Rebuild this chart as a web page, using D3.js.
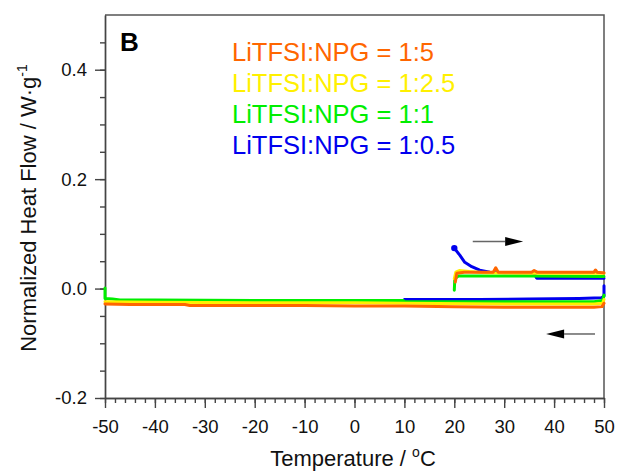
<!DOCTYPE html>
<html>
<head>
<meta charset="utf-8">
<script src="https://cdn.jsdelivr.net/npm/d3@7"></script>
<style>
  body { margin: 0; background: #fff; }
  text { font-family: "Liberation Sans", Arial, sans-serif; }
</style>
</head>
<body>
<div id="chart"></div>
<script>
// series names, colours (legend order)
var names = ["LiTFSI:NPG = 1:5", "LiTFSI:NPG = 1:2.5", "LiTFSI:NPG = 1:1", "LiTFSI:NPG = 1:0.5"];
var colors = ["#ff6600", "#fff000", "#00ee00", "#0000ee"];

// [temperature, heat flow] - cooling run 50 -> -50 / 10, then heating 20 -> 50
var orange = [
  [50, 0.029], [49.7, 0.029], [48.6, 0.030], [48.3, 0.034], [48.0, 0.030], [36.6, 0.030], [36.0, 0.033],
  [35.5, 0.030], [28.8, 0.030], [28.3, 0.038], [27.8, 0.030], [22, 0.030], [20.5, 0.028], [20.2, 0.012]
];
var orangeCool = [
  [50, -0.027], [49.6, -0.033], [48, -0.034], [40, -0.034], [30, -0.034], [20, -0.033], [10, -0.032],
  [0, -0.032], [-10, -0.031], [-20, -0.031], [-33, -0.031], [-34, -0.029], [-45, -0.029], [-50, -0.028]
];
var yellow = [
  [20, 0.018], [20.3, 0.030], [21, 0.033], [23, 0.031], [26, 0.029], [35, 0.028], [50, 0.028]
];
var yellowCool = [
  [50, -0.020], [49.7, -0.027], [48, -0.028], [30, -0.028], [10, -0.027], [0, -0.026], [-20, -0.026],
  [-40, -0.025], [-50, -0.024]
];
var green = [
  [20, -0.003], [20.1, 0.018], [20.8, 0.023], [22, 0.023], [35, 0.023], [50, 0.022]
];
var greenCool = [
  [50, -0.012], [49.7, -0.022], [48, -0.024], [30, -0.024], [10, -0.024], [9.8, -0.022], [0, -0.022],
  [-20, -0.022], [-40, -0.021], [-47, -0.021], [-48.5, -0.019], [-50, -0.018], [-50, 0.001]
];
var blue = [
  [20, 0.074], [21.1, 0.061], [22.1, 0.048], [23.5, 0.040], [25.1, 0.0335], [27.1, 0.030], [30, 0.029],
  [36, 0.028], [36.5, 0.019], [50, 0.019]
];
var blueCool = [
  [50, 0.005], [50, -0.014], [49.5, -0.017], [45, -0.018], [35, -0.019], [25, -0.020], [10, -0.020]
];

// drawing order: blue under, orange on top
var runs = [
  {data: blueCool, c: 3}, {data: blue, c: 3},
  {data: greenCool, c: 2}, {data: green, c: 2},
  {data: yellowCool, c: 1}, {data: yellow, c: 1},
  {data: orangeCool, c: 0}, {data: orange, c: 0}
];

var xTicks = [-50, -40, -30, -20, -10, 0, 10, 20, 30, 40, 50];
var yTicks = [-0.2, 0.0, 0.2, 0.4];

// direction arrows (heating, cooling), in data units
var arrows = [
  {from: [23.7, 0.086], to: [33.8, 0.086]},
  {from: [48.2, -0.083], to: [38.4, -0.083]}
];

var W = 619, H = 473;
var margin = {top: 15, right: 15, bottom: 75, left: 105},
    width = 604 - margin.left,
    height = 398 - margin.top;

var svg = d3.select("#chart")
  .append("svg")
    .attr("width", W)
    .attr("height", H)
  .append("g")
    .attr("transform", "translate(" + margin.left + "," + margin.top + ")");

var x = d3.scaleLinear().domain([-50, 50]).range([0, width]);
var y = d3.scaleLinear().domain([-0.2, 0.5]).range([height, 0]);

// frame top / right
svg.append("path")
  .attr("d", "M0,0H" + width + "V" + height)
  .attr("fill", "none")
  .attr("stroke", "#555")
  .attr("stroke-width", 1.5);

// minor ticks
svg.append("g")
  .attr("class", "axis")
  .attr("transform", "translate(0," + height + ")")
  .call(d3.axisBottom(x).tickValues(d3.range(-50, 50.1, 2)).tickSize(5).tickSizeOuter(0).tickFormat(""));
svg.append("g")
  .attr("class", "axis")
  .call(d3.axisLeft(y).tickValues(d3.range(-0.2, 0.5, 0.05)).tickSize(5).tickSizeOuter(0).tickFormat(""));

// major ticks + labels
svg.append("g")
  .attr("class", "axis")
  .attr("transform", "translate(0," + height + ")")
  .call(d3.axisBottom(x).tickValues(xTicks).tickSize(10).tickSizeOuter(0).tickPadding(12).tickFormat(d3.format("d")));
svg.append("g")
  .attr("class", "axis")
  .call(d3.axisLeft(y).tickValues(yTicks).tickSize(10).tickSizeOuter(0).tickPadding(8).tickFormat(d3.format(".1f")));

svg.selectAll(".axis path, .axis line")
  .attr("stroke", "#444")
  .attr("stroke-width", 1.4);
svg.selectAll(".axis text")
  .attr("fill", "#111")
  .style("font-size", "18.5px")
  .style("font-family", "'Liberation Sans', Arial, sans-serif");
svg.selectAll(".axis text").text(function() { return this.textContent.replace("\u2212", "-"); });

// curves
var line = d3.line().x(function(d) { return x(d[0]); }).y(function(d) { return y(d[1]); });
svg.selectAll(".run")
  .data(runs)
  .enter()
  .append("path")
    .attr("class", "run")
    .attr("d", function(d) { return line(d.data); })
    .attr("fill", "none")
    .attr("stroke", function(d) { return colors[d.c]; })
    .attr("stroke-width", 3)
    .attr("stroke-linejoin", "round")
    .attr("stroke-linecap", "round");

// start dot on blue heating curve
svg.append("circle")
  .attr("cx", x(blue[0][0]))
  .attr("cy", y(blue[0][1]))
  .attr("r", 3.2)
  .attr("fill", colors[3]);

// arrows
arrows.forEach(function(a) {
  var x0 = x(a.from[0]), x1 = x(a.to[0]), yy = y(a.from[1]);
  var dir = x1 > x0 ? 1 : -1;
  var base = x1 - dir * 18;
  svg.append("line")
    .attr("x1", x0).attr("x2", base).attr("y1", yy).attr("y2", yy)
    .attr("stroke", "#666").attr("stroke-width", 1.5);
  svg.append("path")
    .attr("d", "M" + x1 + "," + yy + "L" + base + "," + (yy - 4.5) + "L" + base + "," + (yy + 4.5) + "Z")
    .attr("fill", "#000");
});

// panel letter
svg.append("text")
  .attr("x", 15).attr("y", 36)
  .style("font-size", "26px")
  .style("font-weight", "bold")
  .text("B");

// legend
svg.selectAll(".leg")
  .data(names)
  .enter()
  .append("text")
    .attr("class", "leg")
    .attr("x", 232 - margin.left)
    .attr("y", function(d, i) { return 61 - margin.top + i * 31; })
    .attr("fill", function(d, i) { return colors[i]; })
    .style("font-size", "25.5px")
    .text(function(d) { return d; });

// axis titles
var xt = svg.append("text")
  .attr("x", 353 - margin.left)
  .attr("y", 466 - margin.top)
  .attr("text-anchor", "middle")
  .style("font-size", "22px")
  .attr("fill", "#111");
xt.append("tspan").text("Temperature / ");
xt.append("tspan").attr("dy", -9).style("font-size", "14px").text("o");
xt.append("tspan").attr("dy", 9).text("C");

var yt = svg.append("text")
  .attr("transform", "translate(" + (36 - margin.left) + "," + (208 - margin.top) + ") rotate(-90)")
  .attr("text-anchor", "middle")
  .style("font-size", "22px")
  .attr("fill", "#111");
yt.append("tspan").text("Normalized Heat Flow / W\u00b7g");
yt.append("tspan").attr("dy", -9).style("font-size", "14px").text("-1");
</script>
</body>
</html>
